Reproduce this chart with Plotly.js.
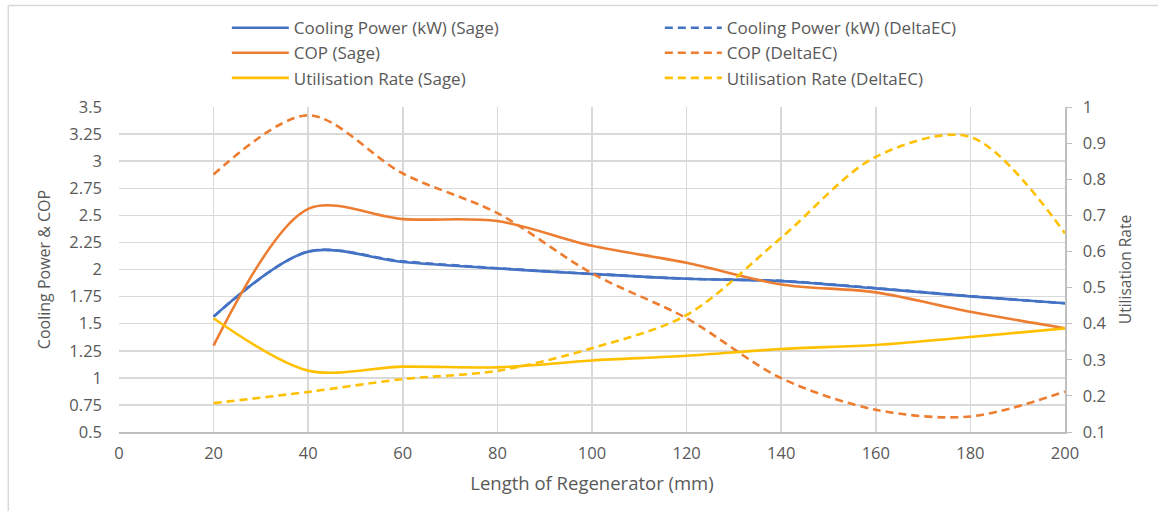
<!DOCTYPE html>
<html>
<head>
<meta charset="utf-8">
<script src="https://cdn.plot.ly/plotly-3.0.1.min.js"></script>
<style>html,body{margin:0;padding:0;background:#fff;}#chart{width:1158px;height:511px;}</style>
</head>
<body>
<div id="chart"></div>
<script>
const lengths = [20, 40, 60, 80, 100, 120, 140, 160, 180, 200];
const coolingSage = [1.565, 2.165, 2.07, 2.01, 1.958, 1.915, 1.893, 1.826, 1.752, 1.688];
const coolingDelta = [1.565, 2.165, 2.075, 2.012, 1.96, 1.915, 1.895, 1.828, 1.754, 1.688];
const copSage = [1.297, 2.56, 2.465, 2.447, 2.219, 2.062, 1.862, 1.789, 1.61, 1.458];
const copDelta = [2.877, 3.423, 2.886, 2.52, 1.964, 1.55, 0.997, 0.705, 0.643, 0.873];
const utilSage = [0.415, 0.27, 0.281, 0.279, 0.298, 0.311, 0.33, 0.341, 0.363, 0.387];
const utilDelta = [0.18, 0.211, 0.2465, 0.2695, 0.332, 0.424, 0.638, 0.862, 0.917, 0.65];
const xTicks = [0, 20, 40, 60, 80, 100, 120, 140, 160, 180, 200];
const leftTicks = [0.5, 0.75, 1, 1.25, 1.5, 1.75, 2, 2.25, 2.5, 2.75, 3, 3.25, 3.5];
const leftTickText = ["0.5", "0.75", "1", "1.25", "1.5", "1.75", "2", "2.25", "2.5", "2.75", "3", "3.25", "3.5"];
const rightTicks = [0.1, 0.2, 0.3, 0.4, 0.5, 0.6, 0.7, 0.8, 0.9, 1];
const rightTickText = ["0.1", "0.2", "0.3", "0.4", "0.5", "0.6", "0.7", "0.8", "0.9", "1"];

const BLUE = '#4472C4', ORANGE = '#ED7D31', YELLOW = '#FFC000';
const DASH = '8px,5px';
function tr(name, y, color, dash, axis) {
  return {x: lengths, y: y, name: name, type: 'scatter', mode: 'lines', yaxis: axis,
    line: {color: color, width: 2.6, dash: dash, shape: 'spline', smoothing: 0.9}};
}
const data = [
  tr('Cooling Power (kW) (Sage)', coolingSage, BLUE, 'solid', 'y'),
  tr('Cooling Power (kW) (DeltaEC)', coolingDelta, BLUE, DASH, 'y'),
  tr('COP (Sage)', copSage, ORANGE, 'solid', 'y'),
  tr('COP (DeltaEC)', copDelta, ORANGE, DASH, 'y'),
  tr('Utilisation Rate (Sage)', utilSage, YELLOW, 'solid', 'y2'),
  tr('Utilisation Rate (DeltaEC)', utilDelta, YELLOW, DASH, 'y2')
];
const FONT = 'Open Sans, sans-serif';
const GREY = '#595959';
const layout = {
  width: 1158, height: 511,
  margin: {l: 119, r: 93, t: 107, b: 79, autoexpand: false},
  paper_bgcolor: '#fff', plot_bgcolor: '#fff',
  font: {family: FONT, color: GREY, size: 16},
  showlegend: true,
  legend: {orientation: 'h', x: 0.114, xanchor: 'left', y: 1.298, yanchor: 'top',
    entrywidth: 361, entrywidthmode: 'pixels', itemwidth: 57, tracegroupgap: 0,
    font: {family: FONT, size: 17, color: GREY}, bgcolor: 'rgba(0,0,0,0)'},
  xaxis: {range: [0, 200], tickvals: xTicks,
    showgrid: true, gridcolor: '#d9d9d9', gridwidth: 1.5, zeroline: false,
    showline: true, linecolor: '#bfbfbf', linewidth: 1.5, ticks: '',
    tickfont: {size: 16.5, color: GREY}, ticklabelstandoff: 6,
    title: {text: 'Length of Regenerator (mm)', font: {size: 18.5, color: GREY}, standoff: 14}},
  yaxis: {range: [0.5, 3.5], tickvals: leftTicks, ticktext: leftTickText,
    showgrid: true, gridcolor: '#d9d9d9', gridwidth: 1.5, zeroline: false,
    showline: false, ticks: '', tickfont: {size: 16.5, color: GREY}, ticklabelstandoff: 16,
    title: {text: 'Cooling Power & COP', font: {size: 16, color: GREY}, standoff: 14}},
  yaxis2: {range: [0.1, 1], tickvals: rightTicks, ticktext: rightTickText, overlaying: 'y', side: 'right',
    showgrid: false, zeroline: false, showline: true, linecolor: '#bfbfbf', linewidth: 1.5,
    ticks: 'outside', ticklen: 5, tickcolor: '#bfbfbf', tickfont: {size: 16.5, color: GREY},
    ticklabelstandoff: 8,
    title: {text: 'Utilisation Rate', font: {size: 15.5, color: GREY}, standoff: 14}},
  shapes: [
    {type: 'line', xref: 'paper', yref: 'paper', x0: -0.117, x1: -0.117, y0: 1.312, y1: -0.4,
      line: {color: '#d9d9d9', width: 1.5}},
    {type: 'line', xref: 'paper', yref: 'paper', x0: -0.117, x1: 1.2, y0: 1.312, y1: 1.312,
      line: {color: '#d9d9d9', width: 1.5}}
  ]
};
Plotly.newPlot('chart', data, layout, {displayModeBar: false, staticPlot: true});
</script>
</body>
</html>
